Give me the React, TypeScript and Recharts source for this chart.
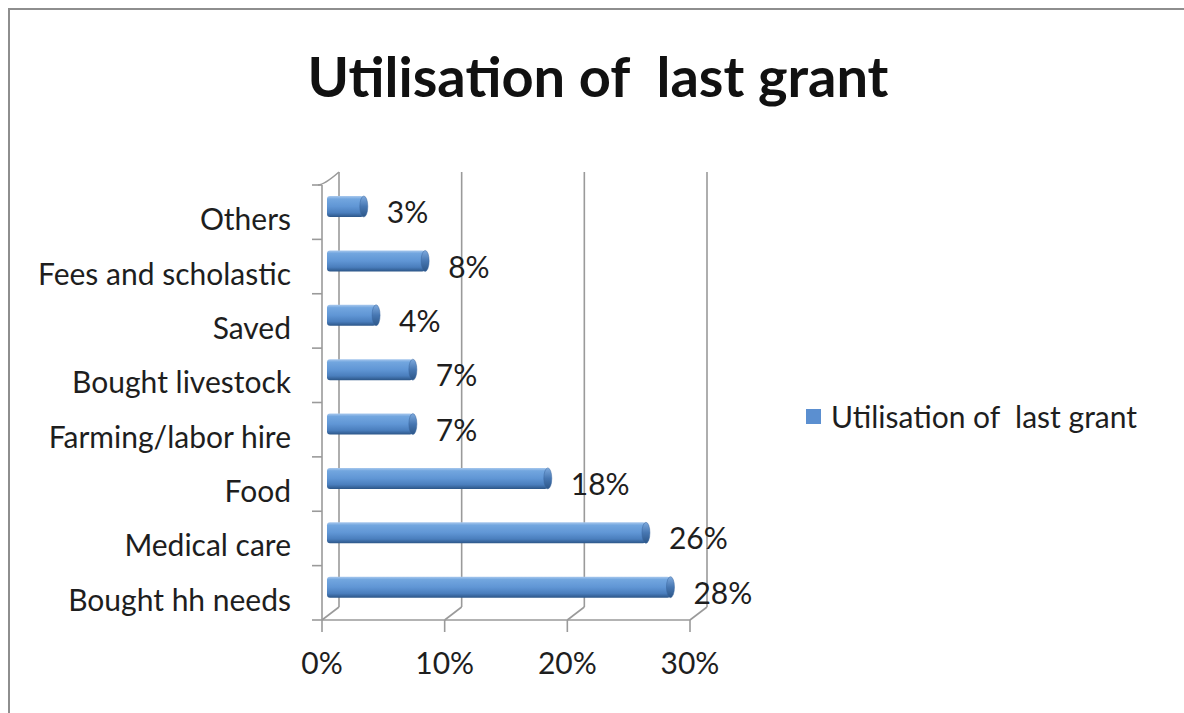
import React from 'react';
import { BarChart, Bar, XAxis, YAxis, CartesianGrid, LabelList, Legend } from 'recharts';

const categories = [
  'Others',
  'Fees and scholastic',
  'Saved',
  'Bought livestock',
  'Farming/labor hire',
  'Food',
  'Medical care',
  'Bought hh needs',
];
const values = [3, 8, 4, 7, 7, 18, 26, 28];
const xTicks = [0, 10, 20, 30];
const seriesName = 'Utilisation of  last grant';
const chartTitle = 'Utilisation of  last grant';

const data = categories.map((name, i) => ({ name, value: values[i] }));

const FONT = 'Lato, "Open Sans", sans-serif';
const TEXT = '#1e1e1e';
const FRAME = '#9a9a9a';
const DEPTH_X = 17;
const DEPTH_Y = -13;
const BAR_DX = 5;
const BAR_DY = -6;

const CylBar = (props: any) => {
  const { x, y, width, height, index } = props;
  if (width == null || width <= 0) return null;
  const bx = x + BAR_DX;
  const by = y + BAR_DY;
  const gid = `cyl-${index}`;
  const cid = `cap-${index}`;
  return (
    <g>
      <defs>
        <linearGradient id={gid} x1="0" y1="0" x2="0" y2="1">
          <stop offset="0" stopColor="#a9c9ee" />
          <stop offset="0.14" stopColor="#72a6df" />
          <stop offset="0.5" stopColor="#6096d5" />
          <stop offset="0.8" stopColor="#4a7ebd" />
          <stop offset="1" stopColor="#2c5688" />
        </linearGradient>
        <linearGradient id={cid} x1="0" y1="0" x2="0" y2="1">
          <stop offset="0" stopColor="#7eaade" />
          <stop offset="0.5" stopColor="#4777b2" />
          <stop offset="1" stopColor="#2c5688" />
        </linearGradient>
      </defs>
      <rect x={bx} y={by} width={width} height={height} rx={3} ry={3} fill={`url(#${gid})`} />
      <ellipse cx={bx + width} cy={by + height / 2} rx={4} ry={height / 2} fill={`url(#${cid})`} stroke="#3a679f" strokeWidth={0.5} />
    </g>
  );
};

const GridLine = (p: any) => {
  const { x1, y1, x2, y2, index } = p;
  const n = categories.length;
  const band = (y2 - y1) / n;
  const extras: React.ReactNode[] = [];
  if (index === 0) {
    for (let k = 0; k <= n; k++) {
      extras.push(
        <line key={`t${k}`} x1={x1 - 10} y1={y1 + k * band} x2={x1} y2={y1 + k * band} />
      );
    }
    extras.push(
      <path key="topdiag" d={`M${x1 - 4},${y1} Q${x1 + 2},${y1} ${x1 + DEPTH_X},${y1 + DEPTH_Y}`} fill="none" />
    );
  }
  return (
    <g key={`g${index}`} stroke={FRAME} strokeWidth={1.6}>
      <line x1={x1 + DEPTH_X} y1={y1 + DEPTH_Y} x2={x2 + DEPTH_X} y2={y2 + DEPTH_Y} />
      <line x1={x2} y1={y2} x2={x2 + DEPTH_X} y2={y2 + DEPTH_Y} />
      {extras}
    </g>
  );
};

const CatTick = (props: any) => {
  const { x, y, payload } = props;
  return (
    <text x={x} y={y} dy={6} textAnchor="end" dominantBaseline="central" fill={TEXT} fontSize={30} fontFamily={FONT}>
      {payload.value}
    </text>
  );
};

const renderLegend = (props: any) => {
  const { payload } = props;
  return (
    <div style={{ fontFamily: FONT, fontSize: 30, color: TEXT }}>
      {(payload || []).map((entry: any, i: number) => (
        <div key={i} style={{ display: 'flex', alignItems: 'center', whiteSpace: 'pre' }}>
          <span style={{ display: 'inline-block', width: 15, height: 15, background: entry.color, marginRight: 10 }} />
          <span>{entry.value}</span>
        </div>
      ))}
    </div>
  );
};

export default function App() {
  return (
    <div style={{ position: 'absolute', left: 0, top: 0, width: 1184, height: 713, background: '#fff' }}>
      <div
        style={{
          position: 'absolute',
          left: 8,
          top: 8,
          width: 1200,
          height: 720,
          borderLeft: '2px solid #8e8e8e',
          borderTop: '2px solid #8e8e8e',
        }}
      />
      <div
        style={{
          position: 'absolute',
          left: 0,
          top: 48,
          width: 1196,
          textAlign: 'center',
          fontFamily: FONT,
          fontWeight: 700,
          fontSize: 56,
          lineHeight: 1,
          color: '#111',
          whiteSpace: 'pre',
        }}
      >
        {chartTitle}
      </div>
      <div style={{ position: 'absolute', left: 0, top: 0 }}>
        <BarChart
          width={1184}
          height={713}
          data={data}
          layout="vertical"
          margin={{ top: 185, right: 494, bottom: 33, left: 0 }}
          barSize={21}
        >
          <CartesianGrid horizontal={false} vertical={GridLine} />
          <XAxis
            type="number"
            domain={[0, 30]}
            ticks={xTicks}
            tickFormatter={(v: number) => `${v}%`}
            axisLine={{ stroke: FRAME, strokeWidth: 1.6 }}
            tickLine={{ stroke: FRAME, strokeWidth: 1.6 }}
            tickSize={12}
            tickMargin={21}
            height={60}
            tick={{ fill: TEXT, fontSize: 30, fontFamily: FONT }}
            interval={0}
          />
          <YAxis
            type="category"
            dataKey="name"
            width={322}
            axisLine={{ stroke: FRAME, strokeWidth: 1.6 }}
            tickLine={false}
            tickSize={0}
            tickMargin={31}
            tick={<CatTick />}
            interval={0}
          />
          <Legend
            layout="vertical"
            align="center"
            verticalAlign="middle"
            wrapperStyle={{ left: 806, top: 398, width: 'auto' }}
            content={renderLegend}
          />
          <Bar dataKey="value" name={seriesName} fill="#5b8fd0" shape={<CylBar />} isAnimationActive={false}>
            <LabelList
              dataKey="value"
              position="right"
              offset={28}
              formatter={(v: any) => `${v}%`}
              fill={TEXT}
              fontSize={30}
              fontFamily={FONT}
            />
          </Bar>
        </BarChart>
      </div>
    </div>
  );
}
